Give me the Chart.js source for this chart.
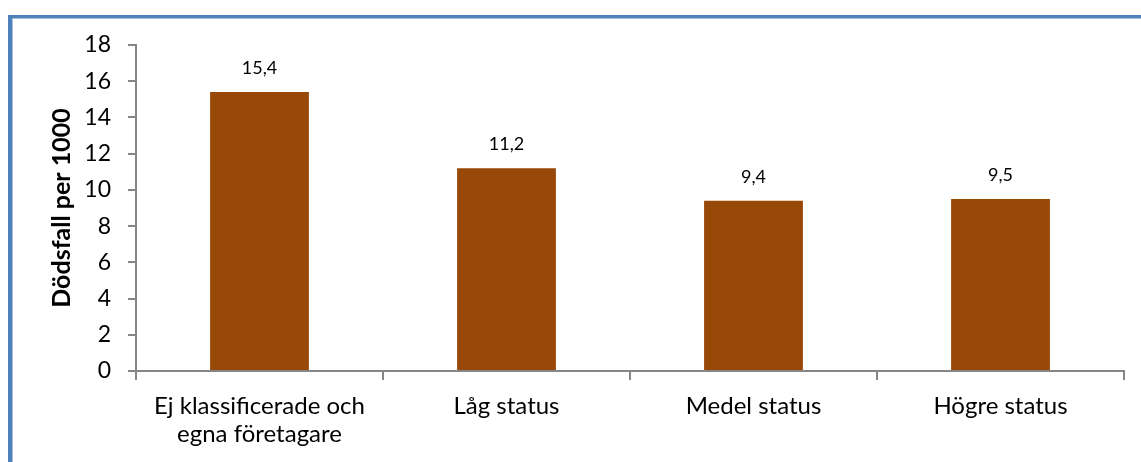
<!DOCTYPE html>
<html lang="sv">
<head>
<meta charset="utf-8">
<title>Dödsfall per 1000</title>
<script src="https://cdn.jsdelivr.net/npm/chart.js@4/dist/chart.umd.min.js"></script>
<style>
  html, body { margin: 0; padding: 0; background: #fff; overflow: hidden; }
  #frame {
    position: absolute; left: 8px; top: 15px; width: 2000px; height: 1000px;
    border-left: 4px solid #4F81BD; border-top: 3px solid #4F81BD;
    box-shadow: inset 1px 1px 0 #A6BDDD;
  }
  #wrap { position: absolute; left: 0; top: 0; width: 1141px; height: 462px; }
</style>
</head>
<body>
<div id="frame"></div>
<div id="wrap"><canvas id="chart" width="1141" height="462"></canvas></div>
<script>
// Categories (socioeconomic status) and deaths per 1000
const categories = [
  ['Ej klassificerade och', 'egna företagare'],
  'Låg status',
  'Medel status',
  'Högre status'
];
const deathsPer1000 = [15.4, 11.2, 9.4, 9.5];
const yTicks = { min: 0, max: 18, step: 2 };
const axisTitle = 'Dödsfall per 1000';

const FONT = 'Lato';
const BAR_COLOR = '#984807';
const AXIS_COLOR = '#868686';

// Value labels above each bar, Swedish decimal comma
const valueLabels = {
  id: 'valueLabels',
  afterDatasetsDraw(chart) {
    const ctx = chart.ctx;
    const meta = chart.getDatasetMeta(0);
    ctx.save();
    ctx.font = '18px ' + FONT;
    ctx.fillStyle = '#000';
    ctx.textAlign = 'center';
    ctx.textBaseline = 'alphabetic';
    meta.data.forEach((bar, i) => {
      const v = chart.data.datasets[0].data[i];
      ctx.fillText(v.toFixed(1).replace('.', ','), bar.x, bar.y - 18);
    });
    ctx.restore();
  }
};

new Chart(document.getElementById('chart'), {
  type: 'bar',
  data: {
    labels: categories,
    datasets: [{
      data: deathsPer1000,
      backgroundColor: BAR_COLOR,
      borderWidth: 0,
      categoryPercentage: 1,
      barPercentage: 0.4
    }]
  },
  options: {
    responsive: false,
    animation: false,
    devicePixelRatio: 1,
    layout: { padding: { top: 45, right: 17, bottom: 0, left: 0 } },
    plugins: {
      legend: { display: false },
      tooltip: { enabled: false }
    },
    scales: {
      x: {
        offset: true,
        grid: {
          offset: true,
          drawOnChartArea: false,
          drawTicks: true,
          tickLength: 9,
          color: AXIS_COLOR,
          lineWidth: 2
        },
        border: { display: true, color: AXIS_COLOR, width: 2 },
        ticks: {
          color: '#000',
          font: { family: FONT, size: 24, lineHeight: 1.17 },
          padding: 12,
          maxRotation: 0,
          autoSkip: false
        },
        afterFit(scale) { scale.height = 91; }
      },
      y: {
        min: yTicks.min,
        max: yTicks.max,
        grid: {
          drawOnChartArea: false,
          drawTicks: true,
          tickLength: 8,
          color: AXIS_COLOR,
          lineWidth: 2
        },
        border: { display: true, color: AXIS_COLOR, width: 2 },
        ticks: {
          stepSize: yTicks.step,
          color: '#000',
          font: { family: FONT, size: 23 },
          padding: 17
        },
        title: {
          display: true,
          text: axisTitle,
          color: '#000',
          font: { family: FONT, size: 25, weight: 'bold', lineHeight: 1.2 },
          padding: { top: 47, bottom: 0 }
        },
        afterFit(scale) { scale.width = 136; }
      }
    }
  },
  plugins: [valueLabels]
});
</script>
</body>
</html>
